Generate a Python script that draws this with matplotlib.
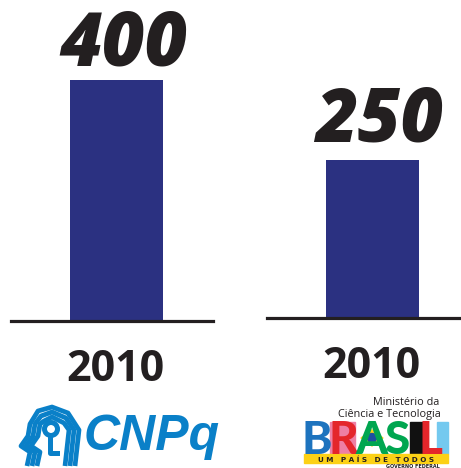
import matplotlib
matplotlib.use("Agg")
import matplotlib.pyplot as plt
from matplotlib.patches import Rectangle, Circle, Polygon

# data
years = ["2010", "2010"]
values = [400, 250]

W, H = 461, 468
BAR = "#2b3181"
INK = "#231f20"
BLUE = "#0a80c8"

fig = plt.figure(figsize=(W / 100, H / 100), dpi=100)


def px_axes(left, top, right, bottom):
    return fig.add_axes([left / W, 1 - bottom / H, (right - left) / W, (bottom - top) / H])


# one little chart per value, each with its own baseline
panels = [
    # left, right, baseline, px per unit, bar centre, label dx, label gap
    (11, 213, 321, 241 / 400, 116.5, 7, 15),
    (267, 461, 318, 158 / 250, 372.5, 6.5, 18),
]

for (l, r, base, scale, cx, dx, gap), val, yr in zip(panels, values, years):
    ax = px_axes(l, 0, r, base)
    ax.set_facecolor("none")
    ax.bar([0], [val], width=0.93, color=BAR)
    ax.set_xlim(-(cx - l) / 100, (r - cx) / 100)
    ax.set_ylim(0, base / scale)
    for s in ["top", "left", "right"]:
        ax.spines[s].set_visible(False)
    ax.spines["bottom"].set_linewidth(2.3)
    ax.spines["bottom"].set_color(INK)
    ax.set_xticks([])
    ax.set_yticks([])
    ax.annotate(str(val), (0, val), xytext=(dx * 0.72, gap * 0.72), textcoords="offset points",
                ha="center", va="baseline", fontsize=53, fontweight="heavy", fontstyle="italic",
                family="Open Sans", color=INK, annotation_clip=False)
    ax.annotate(yr, (0, 0), xytext=(-1 * 0.72, -60 * 0.72), textcoords="offset points",
                ha="center", va="baseline", fontsize=31, fontweight="bold",
                family="Open Sans", color=INK, annotation_clip=False)

# logos along the bottom
lg = fig.add_axes([0, 0, 1, 1], zorder=-1)
lg.set_xlim(0, W)
lg.set_ylim(H, 0)
lg.axis("off")

# CNPq head mark
for k, off in enumerate([0, 5, 10]):
    head = [(27 + off, 466), (30 + off, 452), (21 + off, 446), (28 + off, 436), (30 + off, 424),
            (38 + off * 0.6, 411 + off), (52, 407 + off), (68 - off * 0.4, 413 + off),
            (79 - off, 430), (77 - off, 448), (75 - off, 466)]
    lg.add_patch(Polygon(head, closed=False, fill=False, edgecolor=BLUE, lw=3.4,
                         joinstyle="round"))
lg.add_patch(Circle((51, 429), 6.5, fill=False, edgecolor=BLUE, lw=3.6))
lg.plot([50, 50, 57], [436, 453, 453], color=BLUE, lw=3.6)
lg.text(84, 450, "CNPq", fontsize=36, fontweight="bold", fontstyle="italic",
        family="Liberation Sans", color=BLUE, ha="left", va="baseline")

# Brasil logo
lg.text(439, 405, "Ministério da", fontsize=7.8, family="Open Sans", color=INK,
        ha="right", va="baseline")
lg.text(441, 417, "Ciência e Tecnologia", fontsize=7.8, family="Open Sans", color=INK,
        ha="right", va="baseline")
lg.add_patch(Rectangle((330, 422), 25, 32, color="#ee7fa4"))
lg.add_patch(Rectangle((410, 422), 13, 32, color="#111111"))
lg.add_patch(Rectangle((437, 422), 11, 32, color="#74c9ef"))
letters = ["B", "R", "A", "S", "L"]
lx = [317, 343, 372, 397, 430]
lc = ["#1d73be", "#e4262b", "#00a650", "#00a650", "#e4262b"]
for t, x, c in zip(letters, lx, lc):
    lg.text(x, 454, t, fontsize=33, fontweight="black", family="Lato",
            color=c, ha="center", va="baseline")
lg.add_patch(Polygon([(372, 430), (383, 438), (372, 446), (361, 438)], color="#fcd116"))
lg.add_patch(Circle((372, 438), 4.5, color="#1d4fa0"))
lg.add_patch(Rectangle((304, 454), 144, 9, color="#fcd116"))
lg.text(376, 461.5, "U M   P A Í S   D E   T O D O S", fontsize=5.2, fontweight="bold",
        family="DejaVu Sans", color=INK, ha="center", va="baseline")
lg.text(440, 468, "GOVERNO FEDERAL", fontsize=3.5, fontweight="bold",
        family="DejaVu Sans", color=INK, ha="right", va="baseline")

fig.savefig("out.png", dpi=100)
